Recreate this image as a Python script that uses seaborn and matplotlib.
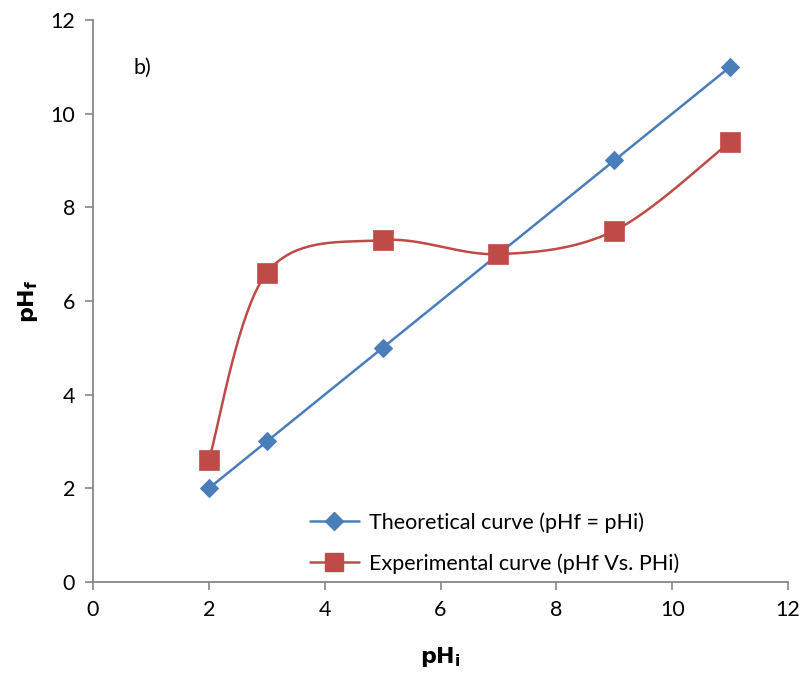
import numpy as np
import pandas as pd
import matplotlib
matplotlib.use("Agg")
import matplotlib.pyplot as plt
from matplotlib.lines import Line2D
import seaborn as sns

ph_i = [2, 3, 5, 7, 9, 11]
theoretical = [2, 3, 5, 7, 9, 11]
experimental = [2.6, 6.6, 7.3, 7.0, 7.5, 9.4]
x_ticks = [0, 2, 4, 6, 8, 10, 12]
y_ticks = [0, 2, 4, 6, 8, 10, 12]

BLUE = "#4A7EBB"
RED = "#BE4B48"

sns.set_theme(style="white")
plt.rcParams['font.family'] = ['Lato', 'DejaVu Sans']


def excel_smooth(xs, ys, n=40):
    xs = np.asarray(xs, float); ys = np.asarray(ys, float)
    P = np.column_stack([xs, ys])
    out = []
    for i in range(len(P) - 1):
        p0 = P[i - 1] if i > 0 else P[i]
        p1 = P[i]
        p2 = P[i + 1]
        p3 = P[i + 2] if i + 2 < len(P) else P[i + 1]
        c1 = p1 + (p2 - p0) / 6.0
        c2 = p2 - (p3 - p1) / 6.0
        t = np.linspace(0, 1, n)[:, None]
        seg = ((1 - t) ** 3) * p1 + 3 * ((1 - t) ** 2) * t * c1 + 3 * (1 - t) * t ** 2 * c2 + t ** 3 * p2
        out.append(seg if i == 0 else seg[1:])
    s = np.vstack(out)
    return s[:, 0], s[:, 1]


fig = plt.figure(figsize=(8.04, 6.75), dpi=100)
ax = fig.add_axes([0.1157, 0.1378, 0.8645, 0.8326])

df_t = pd.DataFrame({"x": ph_i, "y": theoretical})
sns.lineplot(data=df_t, x="x", y="y", ax=ax, color=BLUE, linewidth=1.8,
             marker="D", markersize=9, markeredgecolor=BLUE, sort=False, zorder=3)

sx, sy = excel_smooth(ph_i, experimental)
df_s = pd.DataFrame({"x": sx, "y": sy})
sns.lineplot(data=df_s, x="x", y="y", ax=ax, color=RED, linewidth=1.8, sort=False, zorder=3)
df_e = pd.DataFrame({"x": ph_i, "y": experimental})
sns.scatterplot(data=df_e, x="x", y="y", ax=ax, color=RED, marker="s", s=200,
                edgecolor=RED, linewidth=0.5, zorder=4)

ax.set_xlim(0, 12)
ax.set_ylim(0, 12)
ax.set_xticks(x_ticks)
ax.set_yticks(y_ticks)
ax.tick_params(axis="both", which="both", direction="out", length=6, width=1.2,
               color="#868686", labelsize=15.5, labelcolor="black",
               bottom=True, left=True, pad=7)
for side in ["top", "right"]:
    ax.spines[side].set_visible(False)
for side in ["left", "bottom"]:
    ax.spines[side].set_color("#868686")
    ax.spines[side].set_linewidth(1.3)

ax.set_xlabel(r"$\mathbf{pH_i}$", fontsize=16, color="black", labelpad=18)
ax.set_ylabel(r"$\mathbf{pH_f}$", fontsize=16, color="black", labelpad=7)

ax.text(0.058, 0.915, "b)", transform=ax.transAxes, fontsize=15.5, ha="left", va="center",
        color="black")

handles = [
    Line2D([0], [0], color=BLUE, linewidth=1.8, marker="D", markersize=9),
    Line2D([0], [0], color=RED, linewidth=1.8, marker="s", markersize=13),
]
labels = ["Theoretical curve (pHf = pHi)", "Experimental curve (pHf Vs. PHi)"]
leg = ax.legend(handles, labels, loc="lower left", bbox_to_anchor=(0.29, -0.012),
                frameon=False, fontsize=15.5, handlelength=2.3, handletextpad=0.45,
                labelspacing=0.95, borderaxespad=0.3)
for t in leg.get_texts():
    t.set_color("black")

fig.savefig("out.png", dpi=100)
